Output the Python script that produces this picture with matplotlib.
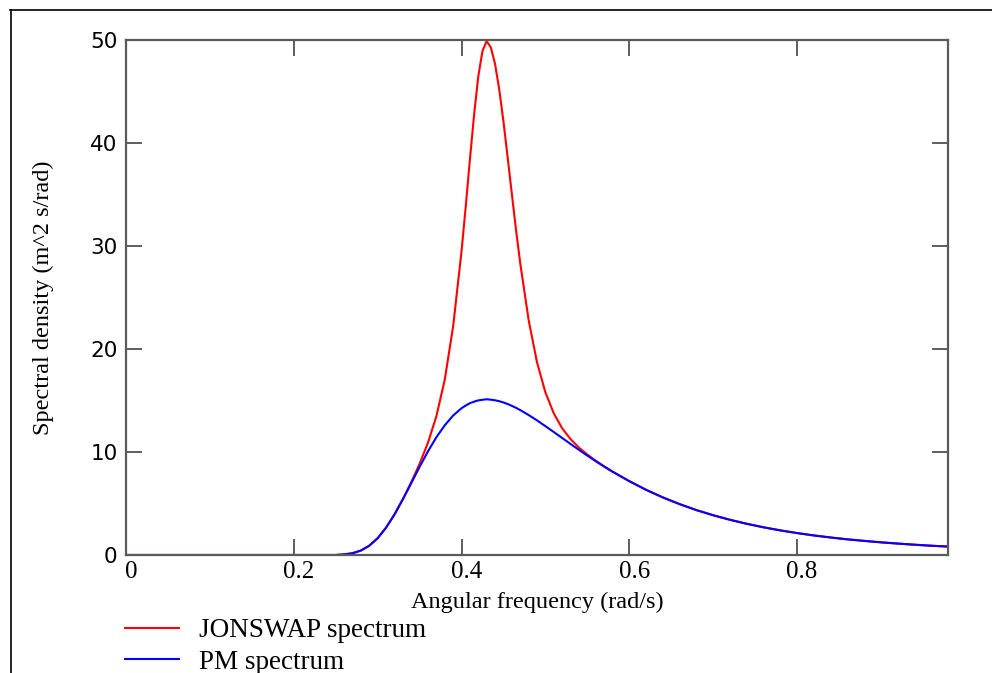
import matplotlib
matplotlib.use("Agg")
import matplotlib.pyplot as plt
import matplotlib.transforms as mtransforms
from matplotlib.lines import Line2D

# ---- data ----
omega = [0.00, 0.25, 0.26, 0.27, 0.28, 0.29, 0.30, 0.31, 0.32, 0.33, 0.34,
         0.35, 0.36, 0.37, 0.38, 0.39, 0.40, 0.405, 0.41, 0.415, 0.42,
         0.425, 0.43, 0.435, 0.44, 0.445, 0.45, 0.455, 0.46, 0.465, 0.47,
         0.48, 0.49, 0.50, 0.51, 0.52, 0.53, 0.54, 0.55, 0.56, 0.57, 0.58,
         0.60, 0.62, 0.64, 0.66, 0.68, 0.70, 0.72, 0.74, 0.76, 0.78, 0.80,
         0.82, 0.84, 0.86, 0.88, 0.90, 0.92, 0.94, 0.96, 0.98]

pm_spectrum = [0.00, 0.00, 0.06, 0.17, 0.43, 0.90, 1.63, 2.65, 3.92, 5.39, 6.96,
               8.55, 10.06, 11.43, 12.59, 13.54, 14.25, 14.51, 14.74, 14.89, 15.01,
               15.07, 15.12, 15.08, 15.02, 14.93, 14.81, 14.66, 14.48, 14.29, 14.07,
               13.59, 13.07, 12.51, 11.94, 11.36, 10.78, 10.21, 9.65, 9.11, 8.59, 8.09,
               7.17, 6.33, 5.59, 4.94, 4.36, 3.86, 3.42, 3.03, 2.69, 2.39, 2.13,
               1.90, 1.70, 1.52, 1.37, 1.23, 1.11, 1.00, 0.90, 0.82]

jonswap_spectrum = [0.00, 0.00, 0.06, 0.17, 0.43, 0.90, 1.63, 2.65, 3.93, 5.42, 7.06,
                    8.85, 10.90, 13.46, 17.01, 22.19, 29.47, 33.80, 38.39, 42.74, 46.47,
                    48.93, 49.90, 49.27, 47.67, 45.19, 42.09, 38.61, 35.06, 31.56, 28.33,
                    22.82, 18.71, 15.79, 13.75, 12.30, 11.25, 10.43, 9.75, 9.15, 8.60, 8.10,
                    7.17, 6.33, 5.59, 4.94, 4.36, 3.86, 3.42, 3.03, 2.69, 2.39, 2.13,
                    1.90, 1.70, 1.52, 1.37, 1.23, 1.11, 1.00, 0.90, 0.82]

x_ticks = [0.0, 0.2, 0.4, 0.6, 0.8]
x_tick_labels = ["0", "0.2", "0.4", "0.6", "0.8"]
y_ticks = [0, 10, 20, 30, 40, 50]
y_tick_labels = ["0", "10", "20", "30", "40", "50"]

W, H = 992, 673
fig = plt.figure(figsize=(W / 100, H / 100), dpi=100)
ax = fig.add_axes([126 / W, 1 - 555 / H, (948 - 126) / W, (555 - 40) / H])

ax.plot(omega, jonswap_spectrum, color="#ff0000", lw=1.5, label="JONSWAP spectrum")
ax.plot(omega, pm_spectrum, color="#0000ff", lw=1.5, label="PM spectrum")

ax.set_xlim(0, 0.98)
ax.set_ylim(0, 50)

spine_col = "#5a5a5a"
for s in ax.spines.values():
    s.set_color(spine_col)
    s.set_linewidth(1.6)

ax.set_xticks(x_ticks)
ax.set_xticklabels(x_tick_labels, family="Liberation Serif", fontsize=18)
ax.set_yticks(y_ticks)
ax.set_yticklabels(y_tick_labels, family="DejaVu Sans", fontsize=15.5)
ax.tick_params(axis="both", direction="in", length=11.5, width=1.1,
               color="#333333", top=True, right=True)
ax.tick_params(axis="x", pad=4)
ax.tick_params(axis="y", pad=6)

shift = mtransforms.ScaledTranslation(5 / 100, 0, fig.dpi_scale_trans)
for lab in ax.get_xticklabels():
    lab.set_transform(lab.get_transform() + shift)

ax.set_xlabel("Angular frequency (rad/s)", family="Liberation Serif",
              fontsize=17.5, labelpad=7)
ax.set_ylabel("Spectral density (m^2 s/rad)", family="Liberation Serif",
              fontsize=17.5, labelpad=26)

leg = fig.legend(loc="upper left", bbox_to_anchor=(125 / W, 1 - 618 / H),
                 frameon=False, prop={"family": "Liberation Serif", "size": 19.5},
                 handlelength=2.0, handletextpad=0.75, labelspacing=0.25,
                 borderpad=0, borderaxespad=0)

# outer frame lines of the original screenshot
fig.add_artist(Line2D([10 / W, 1.0], [1 - 9.5 / H, 1 - 9.5 / H],
                      transform=fig.transFigure, color="black", lw=1.2))
fig.add_artist(Line2D([10.5 / W, 10.5 / W], [0, 1 - 9.5 / H],
                      transform=fig.transFigure, color="black", lw=1.2))

fig.savefig("out.png", dpi=100)
